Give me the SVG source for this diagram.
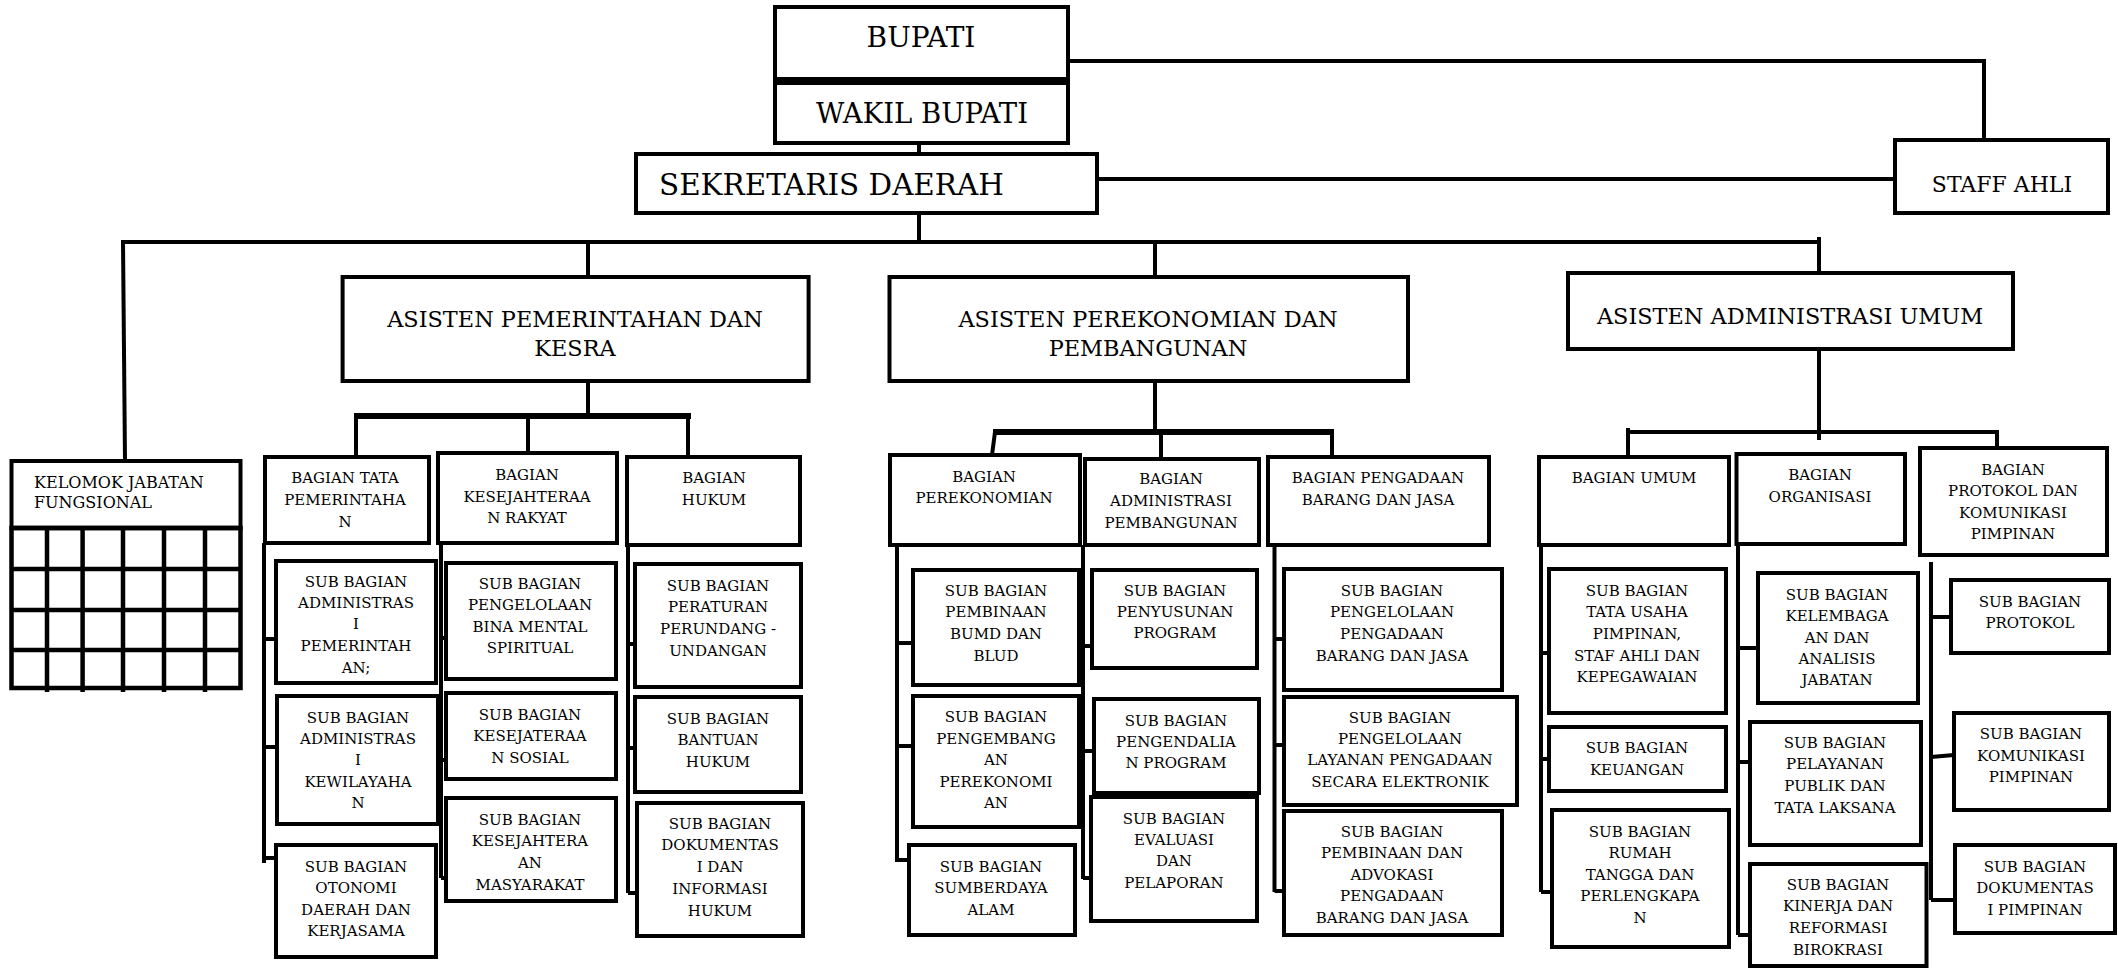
<svg xmlns="http://www.w3.org/2000/svg" width="2118" height="968" viewBox="0 0 2118 968">
<style>
.box{fill:#fff;stroke:#000;stroke-width:4}
.t{font-family:"DejaVu Serif","Liberation Serif",serif;fill:#000;text-anchor:middle;font-size:15px}
.a{font-size:22.4px}
.l{fill:none;stroke:#000;stroke-width:4}
.lb{fill:none;stroke:#000;stroke-width:6}
.g{fill:none;stroke:#000;stroke-width:4.5}
</style>
<rect width="2118" height="968" fill="#fff"/>
<g id="connectors">
<path class="l" d="M919 79V83M919 143V154M919 213V242"/>
<path class="l" d="M1068 61H1984V140"/>
<path class="l" d="M1097 179H1895"/>
<path class="l" d="M121 242H1819M1819 237V273"/>
<path class="l" d="M123 242L125 461"/>
<path class="l" d="M588 242V277M1155 242V277"/>
<path class="l" d="M588 381V416"/>
<path class="lb" d="M354 416H691"/>
<path class="l" d="M356 416V461M528 416V453M688 416V457"/>
<path class="l" d="M1155 381V432"/>
<path class="lb" d="M993 432H1334"/>
<path class="l" d="M995 432L992 455M1161 432V459M1332 432V457"/>
<path class="l" d="M1819 349V440"/>
<path class="l" d="M1628 428V457M1628 432H1997V457"/>
<path class="l" d="M264 543V863M264 639H277M264 747H277M264 858H277"/>
<path class="l" d="M441 543V878M441 638H447M441 760H447M441 878H447"/>
<path class="l" d="M628 545V893M628 644H635M628 748H635M628 893H637"/>
<path class="l" d="M897 545V862M897 643H913M897 746H913M897 860H909"/>
<path class="l" d="M1083 545V879M1083 646H1092M1083 751H1094M1083 878H1091"/>
<path class="l" d="M1274.5 545V892M1274.5 639H1284M1274.5 745H1284M1274.5 891H1284"/>
<path class="l" d="M1541 545V892M1541 653H1549M1541 759H1549M1541 892H1552"/>
<path class="l" d="M1738 530V935M1738 648H1758M1738 762H1750M1738 935H1750"/>
<path class="l" d="M1931 562V900M1931 617H1951M1931 757L1954 755M1931 900H1955"/>
</g>
<g id="bupati"><rect class="box" x="775" y="7" width="293" height="72"/><text class="t" x="921" y="47" style="font-size:28px">BUPATI</text></g>
<g id="wakil"><rect class="box" x="775" y="83" width="293" height="60"/><text class="t" x="922" y="123" style="font-size:27.5px">WAKIL BUPATI</text></g>
<g id="sekda"><rect class="box" x="636" y="154" width="461" height="59"/><text class="t" x="659" y="195" style="font-size:29.4px;text-anchor:start">SEKRETARIS DAERAH</text></g>
<g id="staff"><rect class="box" x="1895" y="140" width="213" height="73"/><text class="t" x="2002" y="192" style="font-size:22px">STAFF AHLI</text></g>
<g id="kelompok">
<rect class="box" x="11.5" y="461" width="229" height="67"/>
<text class="t" x="34" y="488" style="font-size:16px;text-anchor:start">KELOMOK JABATAN</text>
<text class="t" x="34" y="508" style="font-size:16px;text-anchor:start">FUNGSIONAL</text>
<rect class="g" x="11.5" y="528" width="229" height="160"/>
<path class="g" d="M11.5 528H240.5M11.5 569H240.5M11.5 610H240.5M11.5 650H240.5M47 528V692M82.6 528V692M123 528V692M164 528V692M205 528V692"/>
</g>
<g id="asisten1"><rect class="box" x="342.6" y="277" width="466" height="104"/><text class="t a"><tspan x="575" y="327">ASISTEN PEMERINTAHAN DAN</tspan><tspan x="575" y="356">KESRA</tspan></text></g>
<g id="asisten2"><rect class="box" x="889.5" y="277" width="518.5" height="104"/><text class="t a"><tspan x="1148" y="327">ASISTEN PEREKONOMIAN DAN</tspan><tspan x="1148" y="356">PEMBANGUNAN</tspan></text></g>
<g id="asisten3"><rect class="box" x="1568" y="273" width="445" height="76"/><text class="t a" x="1790" y="324">ASISTEN ADMINISTRASI UMUM</text></g>
<g id="bag-tata-pemerintahan"><rect class="box" x="265" y="457" width="164" height="86"/><text class="t"><tspan x="345" y="483">BAGIAN TATA</tspan><tspan x="345" y="505">PEMERINTAHA</tspan><tspan x="345" y="527">N</tspan></text></g>
<g id="bag-kesra"><rect class="box" x="438" y="453" width="179" height="90"/><text class="t"><tspan x="527" y="480">BAGIAN</tspan><tspan x="527" y="502">KESEJAHTERAA</tspan><tspan x="527" y="523">N RAKYAT</tspan></text></g>
<g id="bag-hukum"><rect class="box" x="627" y="457" width="173" height="88"/><text class="t"><tspan x="714" y="483">BAGIAN</tspan><tspan x="714" y="505">HUKUM</tspan></text></g>
<g id="bag-perekonomian"><rect class="box" x="890" y="455" width="190" height="90"/><text class="t"><tspan x="984" y="482">BAGIAN</tspan><tspan x="984" y="503">PEREKONOMIAN</tspan></text></g>
<g id="bag-adm-pembangunan"><rect class="box" x="1085" y="459" width="174" height="86"/><text class="t"><tspan x="1171" y="484">BAGIAN</tspan><tspan x="1171" y="506">ADMINISTRASI</tspan><tspan x="1171" y="528">PEMBANGUNAN</tspan></text></g>
<g id="bag-pengadaan"><rect class="box" x="1268" y="457" width="221" height="88"/><text class="t"><tspan x="1378" y="483">BAGIAN PENGADAAN</tspan><tspan x="1378" y="505">BARANG DAN JASA</tspan></text></g>
<g id="bag-umum"><rect class="box" x="1539" y="457" width="190" height="88"/><text class="t" x="1634" y="483">BAGIAN UMUM</text></g>
<g id="bag-organisasi"><rect class="box" x="1736.5" y="454" width="168.5" height="90"/><text class="t"><tspan x="1820" y="480">BAGIAN</tspan><tspan x="1820" y="502">ORGANISASI</tspan></text></g>
<g id="bag-protokol"><rect class="box" x="1920" y="448" width="187" height="107"/><text class="t"><tspan x="2013" y="475">BAGIAN</tspan><tspan x="2013" y="496">PROTOKOL DAN</tspan><tspan x="2013" y="518">KOMUNIKASI</tspan><tspan x="2013" y="539">PIMPINAN</tspan></text></g>
<g id="sub-adm-pemerintahan"><rect class="box" x="276" y="561" width="160" height="122"/><text class="t"><tspan x="356" y="587">SUB BAGIAN</tspan><tspan x="356" y="608">ADMINISTRAS</tspan><tspan x="356" y="629">I</tspan><tspan x="356" y="651">PEMERINTAH</tspan><tspan x="356" y="673">AN;</tspan></text></g>
<g id="sub-adm-kewilayahan"><rect class="box" x="277" y="696" width="161" height="128"/><text class="t"><tspan x="358" y="723">SUB BAGIAN</tspan><tspan x="358" y="744">ADMINISTRAS</tspan><tspan x="358" y="765">I</tspan><tspan x="358" y="787">KEWILAYAHA</tspan><tspan x="358" y="808">N</tspan></text></g>
<g id="sub-otonomi"><rect class="box" x="276" y="845" width="160" height="112"/><text class="t"><tspan x="356" y="872">SUB BAGIAN</tspan><tspan x="356" y="893">OTONOMI</tspan><tspan x="356" y="915">DAERAH DAN</tspan><tspan x="356" y="936">KERJASAMA</tspan></text></g>
<g id="sub-bina-mental"><rect class="box" x="446" y="563" width="170" height="116"/><text class="t"><tspan x="530" y="589">SUB BAGIAN</tspan><tspan x="530" y="610">PENGELOLAAN</tspan><tspan x="530" y="632">BINA MENTAL</tspan><tspan x="530" y="653">SPIRITUAL</tspan></text></g>
<g id="sub-kesos"><rect class="box" x="446" y="693" width="170" height="86"/><text class="t"><tspan x="530" y="720">SUB BAGIAN</tspan><tspan x="530" y="741">KESEJATERAA</tspan><tspan x="530" y="763">N SOSIAL</tspan></text></g>
<g id="sub-kesmas"><rect class="box" x="446" y="798" width="170" height="103"/><text class="t"><tspan x="530" y="825">SUB BAGIAN</tspan><tspan x="530" y="846">KESEJAHTERA</tspan><tspan x="530" y="868">AN</tspan><tspan x="530" y="890">MASYARAKAT</tspan></text></g>
<g id="sub-peraturan"><rect class="box" x="635" y="564" width="166" height="123"/><text class="t"><tspan x="718" y="591">SUB BAGIAN</tspan><tspan x="718" y="612">PERATURAN</tspan><tspan x="718" y="634">PERUNDANG -</tspan><tspan x="718" y="656">UNDANGAN</tspan></text></g>
<g id="sub-bantuan-hukum"><rect class="box" x="635" y="697" width="166" height="95"/><text class="t"><tspan x="718" y="724">SUB BAGIAN</tspan><tspan x="718" y="745">BANTUAN</tspan><tspan x="718" y="767">HUKUM</tspan></text></g>
<g id="sub-dok-hukum"><rect class="box" x="637" y="803" width="166" height="133"/><text class="t"><tspan x="720" y="829">SUB BAGIAN</tspan><tspan x="720" y="850">DOKUMENTAS</tspan><tspan x="720" y="872">I DAN</tspan><tspan x="720" y="894">INFORMASI</tspan><tspan x="720" y="916">HUKUM</tspan></text></g>
<g id="sub-bumd"><rect class="box" x="913" y="570" width="166" height="115"/><text class="t"><tspan x="996" y="596">SUB BAGIAN</tspan><tspan x="996" y="617">PEMBINAAN</tspan><tspan x="996" y="639">BUMD DAN</tspan><tspan x="996" y="661">BLUD</tspan></text></g>
<g id="sub-pengembangan"><rect class="box" x="913" y="696" width="166" height="131"/><text class="t"><tspan x="996" y="722">SUB BAGIAN</tspan><tspan x="996" y="744">PENGEMBANG</tspan><tspan x="996" y="765">AN</tspan><tspan x="996" y="787">PEREKONOMI</tspan><tspan x="996" y="808">AN</tspan></text></g>
<g id="sub-sda"><rect class="box" x="909" y="845" width="166" height="90"/><text class="t"><tspan x="991" y="872">SUB BAGIAN</tspan><tspan x="991" y="893">SUMBERDAYA</tspan><tspan x="991" y="915">ALAM</tspan></text></g>
<g id="sub-penyusunan"><rect class="box" x="1092" y="570" width="165" height="98"/><text class="t"><tspan x="1175" y="596">SUB BAGIAN</tspan><tspan x="1175" y="617">PENYUSUNAN</tspan><tspan x="1175" y="638">PROGRAM</tspan></text></g>
<g id="sub-pengendalian"><rect class="box" x="1094" y="699" width="165" height="94"/><text class="t"><tspan x="1176" y="726">SUB BAGIAN</tspan><tspan x="1176" y="747">PENGENDALIA</tspan><tspan x="1176" y="768">N PROGRAM</tspan></text></g>
<g id="sub-evaluasi"><rect class="box" x="1091" y="797" width="166" height="124"/><text class="t"><tspan x="1174" y="824">SUB BAGIAN</tspan><tspan x="1174" y="845">EVALUASI</tspan><tspan x="1174" y="866">DAN</tspan><tspan x="1174" y="888">PELAPORAN</tspan></text></g>
<g id="sub-pengelolaan-pbj"><rect class="box" x="1284" y="569" width="218" height="121"/><text class="t"><tspan x="1392" y="596">SUB BAGIAN</tspan><tspan x="1392" y="617">PENGELOLAAN</tspan><tspan x="1392" y="639">PENGADAAN</tspan><tspan x="1392" y="661">BARANG DAN JASA</tspan></text></g>
<g id="sub-lpse"><rect class="box" x="1284" y="697" width="233" height="108"/><text class="t"><tspan x="1400" y="723">SUB BAGIAN</tspan><tspan x="1400" y="744">PENGELOLAAN</tspan><tspan x="1400" y="765">LAYANAN PENGADAAN</tspan><tspan x="1400" y="787">SECARA ELEKTRONIK</tspan></text></g>
<g id="sub-advokasi"><rect class="box" x="1284" y="811" width="218" height="124"/><text class="t"><tspan x="1392" y="837">SUB BAGIAN</tspan><tspan x="1392" y="858">PEMBINAAN DAN</tspan><tspan x="1392" y="880">ADVOKASI</tspan><tspan x="1392" y="901">PENGADAAN</tspan><tspan x="1392" y="923">BARANG DAN JASA</tspan></text></g>
<g id="sub-tata-usaha"><rect class="box" x="1549" y="569" width="177" height="144"/><text class="t"><tspan x="1637" y="596">SUB BAGIAN</tspan><tspan x="1637" y="617">TATA USAHA</tspan><tspan x="1637" y="639">PIMPINAN,</tspan><tspan x="1637" y="661">STAF AHLI DAN</tspan><tspan x="1637" y="682">KEPEGAWAIAN</tspan></text></g>
<g id="sub-keuangan"><rect class="box" x="1549" y="727" width="177" height="64"/><text class="t"><tspan x="1637" y="753">SUB BAGIAN</tspan><tspan x="1637" y="775">KEUANGAN</tspan></text></g>
<g id="sub-rumah-tangga"><rect class="box" x="1552" y="810" width="177" height="137"/><text class="t"><tspan x="1640" y="837">SUB BAGIAN</tspan><tspan x="1640" y="858">RUMAH</tspan><tspan x="1640" y="880">TANGGA DAN</tspan><tspan x="1640" y="901">PERLENGKAPA</tspan><tspan x="1640" y="923">N</tspan></text></g>
<g id="sub-kelembagaan"><rect class="box" x="1758" y="573" width="160" height="130"/><text class="t"><tspan x="1837" y="600">SUB BAGIAN</tspan><tspan x="1837" y="621">KELEMBAGA</tspan><tspan x="1837" y="643">AN DAN</tspan><tspan x="1837" y="664">ANALISIS</tspan><tspan x="1837" y="685">JABATAN</tspan></text></g>
<g id="sub-pelayanan-publik"><rect class="box" x="1750" y="722" width="171" height="123"/><text class="t"><tspan x="1835" y="748">SUB BAGIAN</tspan><tspan x="1835" y="769">PELAYANAN</tspan><tspan x="1835" y="791">PUBLIK DAN</tspan><tspan x="1835" y="813">TATA LAKSANA</tspan></text></g>
<g id="sub-kinerja"><rect class="box" x="1750" y="864" width="176.5" height="102"/><text class="t"><tspan x="1838" y="890">SUB BAGIAN</tspan><tspan x="1838" y="911">KINERJA DAN</tspan><tspan x="1838" y="933">REFORMASI</tspan><tspan x="1838" y="955">BIROKRASI</tspan></text></g>
<g id="sub-protokol"><rect class="box" x="1951" y="580" width="158" height="73"/><text class="t"><tspan x="2030" y="607">SUB BAGIAN</tspan><tspan x="2030" y="628">PROTOKOL</tspan></text></g>
<g id="sub-komunikasi"><rect class="box" x="1954" y="713" width="155" height="97"/><text class="t"><tspan x="2031" y="739">SUB BAGIAN</tspan><tspan x="2031" y="761">KOMUNIKASI</tspan><tspan x="2031" y="782">PIMPINAN</tspan></text></g>
<g id="sub-dok-pimpinan"><rect class="box" x="1955" y="845" width="160" height="88"/><text class="t"><tspan x="2035" y="872">SUB BAGIAN</tspan><tspan x="2035" y="893">DOKUMENTAS</tspan><tspan x="2035" y="915">I PIMPINAN</tspan></text></g>
</svg>
